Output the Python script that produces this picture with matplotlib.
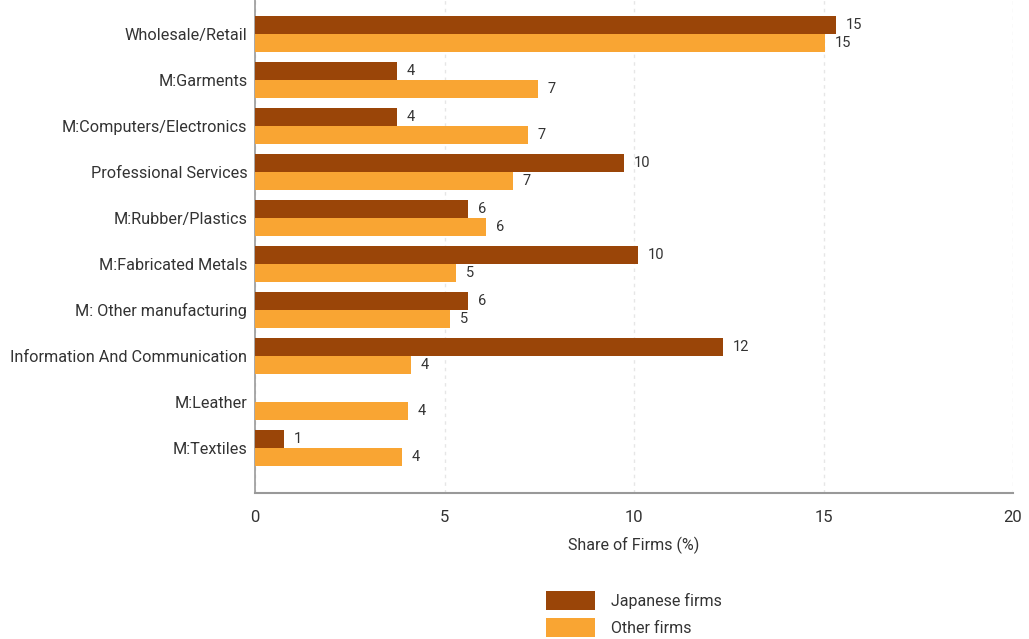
import matplotlib
matplotlib.use("Agg")
import matplotlib.pyplot as plt
import numpy as np
from matplotlib.patches import Patch

plt.rcParams['font.family'] = ['Roboto', 'DejaVu Sans']

categories = [
    "Wholesale/Retail",
    "M:Garments",
    "M:Computers/Electronics",
    "Professional Services",
    "M:Rubber/Plastics",
    "M:Fabricated Metals",
    "M: Other manufacturing",
    "Information And Communication",
    "M:Leather",
    "M:Textiles",
]
japanese_firms = [15.33, 3.75, 3.75, 9.74, 5.62, 10.11, 5.62, 12.35, 0.0, 0.77]
other_firms = [15.04, 7.47, 7.20, 6.81, 6.09, 5.30, 5.15, 4.12, 4.04, 3.88]
x_ticks = [0, 5, 10, 15, 20]

c_jp = "#9A4508"
c_other = "#F9A533"
text_c = "#333333"
axis_c = "#999999"

fig = plt.figure(figsize=(10.29, 6.39), dpi=100)
ax = fig.add_axes([255 / 1029, 1 - 493 / 639, (1013 - 255) / 1029, 493 / 639])

y = np.arange(len(categories))
h = 0.39
bars_jp = ax.barh(y - h / 2, japanese_firms, height=h, color=c_jp, zorder=3)
bars_ot = ax.barh(y + h / 2, other_firms, height=h, color=c_other, zorder=3)

for bars, vals in ((bars_jp, japanese_firms), (bars_ot, other_firms)):
    for b, v in zip(bars, vals):
        if v <= 0:
            continue
        ax.annotate(f"{v:.0f}", (v, b.get_y() + b.get_height() / 2),
                    xytext=(7, 0), textcoords="offset points",
                    va="center", ha="left", fontsize=10.5, color=text_c)

ax.set_xlim(0, 20)
ax.set_ylim(len(categories) - 1 + 0.98, -0.74)
ax.set_xticks(x_ticks)
ax.set_xticklabels([str(t) for t in x_ticks])
ax.set_yticks(y)
ax.set_yticklabels(categories)
ax.tick_params(axis="x", length=0, labelsize=12, colors=text_c, pad=12)
ax.tick_params(axis="y", length=0, labelsize=11.7, colors=text_c, pad=5.5)

ax.grid(axis="x", color="#e6e6e6", linestyle=(0, (2.5, 3)), linewidth=1, zorder=0)
for s in ("top", "right"):
    ax.spines[s].set_visible(False)
ax.spines["bottom"].set_color(axis_c)
ax.spines["bottom"].set_linewidth(1.5)
ax.spines["left"].set_color(axis_c)
ax.spines["left"].set_linewidth(1.2)

ax.set_xlabel("Share of Firms (%)", fontsize=11.5, color=text_c, labelpad=9)

handles = [Patch(facecolor=c_jp, label="Japanese firms"),
           Patch(facecolor=c_other, label="Other firms")]
fig.legend(handles=handles, loc="center", bbox_to_anchor=(634 / 1029, 1 - 614 / 639),
           frameon=False, fontsize=11.5, handlelength=3.05, handleheight=1.5,
           labelspacing=0.45, handletextpad=1.0, labelcolor=text_c,
           borderpad=0)

fig.savefig("out.png", dpi=100, facecolor="white")
